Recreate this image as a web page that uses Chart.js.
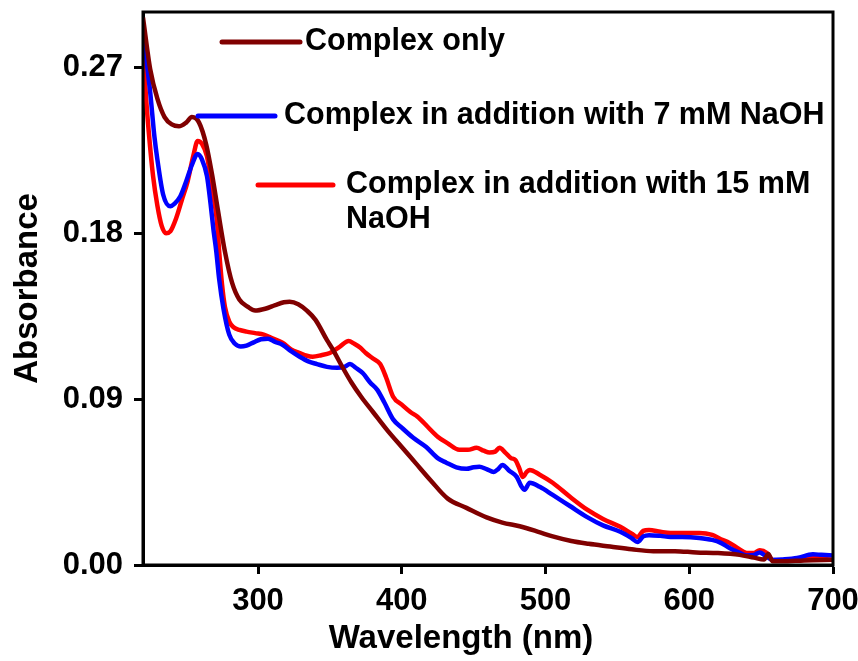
<!DOCTYPE html>
<html>
<head>
<meta charset="utf-8">
<script src="https://cdn.jsdelivr.net/npm/chart.js@4/dist/chart.umd.min.js"></script>
<style>
  html, body { margin: 0; padding: 0; background: #fff; }
  canvas { display: block; }
</style>
</head>
<body>
<canvas id="uvChart" width="858" height="661"></canvas>
<script>
// UV-vis spectra
const complexOnlyNm = [220, 225, 230, 235, 240, 245, 250, 254, 259, 264, 268, 272, 277, 282, 287, 293, 298, 305, 312, 318, 322, 328, 334, 340, 348, 352, 359, 365, 372, 380, 390, 400, 410, 420, 432, 445, 459, 470, 482, 495, 505, 518, 530, 545, 560, 575, 590, 605, 620, 635, 645, 652, 655, 658, 665, 680, 700];
const complexOnlyAbs = [0.297, 0.269, 0.253, 0.243, 0.239, 0.238, 0.240, 0.243, 0.240, 0.228, 0.212, 0.193, 0.170, 0.153, 0.144, 0.140, 0.138, 0.139, 0.141, 0.1425, 0.1428, 0.1415, 0.138, 0.133, 0.122, 0.117, 0.107, 0.099, 0.091, 0.083, 0.073, 0.064, 0.055, 0.046, 0.036, 0.031, 0.0258, 0.023, 0.021, 0.018, 0.0155, 0.013, 0.0115, 0.010, 0.0085, 0.0075, 0.0075, 0.0068, 0.0065, 0.0055, 0.004, 0.003, 0.006, 0.002, 0.002, 0.0025, 0.0028];

const naoh7Nm = [220, 223, 225, 228, 230, 234, 239, 242, 246, 250, 254, 258, 261, 264.5, 267, 269, 271, 273, 276, 280, 284, 288, 292, 297, 302, 307, 312, 317, 323, 329, 335, 341, 348, 355, 360, 364, 368, 373, 378, 383, 388, 394, 400, 408, 417, 425, 431, 438, 445, 450, 454, 459, 464, 467, 470, 475, 480, 483, 485.5, 489, 496, 505, 517, 529, 540, 552, 560, 564, 568, 572, 580, 587, 595, 607, 616, 622, 628, 634, 640, 645, 649, 653, 658, 665, 675, 686, 692, 700];
const naoh7Abs = [0.290, 0.270, 0.2565, 0.232, 0.220, 0.201, 0.1946, 0.196, 0.200, 0.208, 0.217, 0.223, 0.220, 0.211, 0.196, 0.182, 0.170, 0.155, 0.139, 0.125, 0.120, 0.1185, 0.119, 0.1208, 0.1225, 0.1228, 0.121, 0.1195, 0.116, 0.113, 0.1105, 0.109, 0.1075, 0.107, 0.1075, 0.109, 0.107, 0.104, 0.099, 0.095, 0.088, 0.079, 0.0745, 0.069, 0.064, 0.058, 0.0555, 0.053, 0.0522, 0.053, 0.0533, 0.052, 0.0505, 0.052, 0.0543, 0.051, 0.0478, 0.043, 0.0408, 0.0446, 0.0424, 0.038, 0.032, 0.026, 0.0215, 0.018, 0.0145, 0.0125, 0.0155, 0.0162, 0.0158, 0.0152, 0.0152, 0.0147, 0.0136, 0.012, 0.0092, 0.007, 0.0052, 0.0055, 0.0068, 0.005, 0.0027, 0.003, 0.0038, 0.0058, 0.0055, 0.0052];

const naoh15Nm = [220, 222, 224, 227, 230, 233, 236, 239, 243, 247, 251, 255, 258, 261, 264.5, 268, 271.5, 273, 275, 277, 280, 283, 287, 292, 298, 304, 310, 317, 323, 329, 334, 338, 344, 350, 357, 363, 367, 371, 375, 380, 385, 389, 394, 400, 406, 411, 418, 425, 432, 440, 446, 452, 457, 461, 465, 468, 472, 476, 479, 482, 484, 487, 489, 496, 505, 517, 529, 540, 552, 560, 564, 568, 572, 580, 587, 595, 607, 616, 622, 628, 634, 640, 645, 649, 654, 658, 665, 675, 686, 692, 700];
const naoh15Abs = [0.283, 0.255, 0.235, 0.211, 0.195, 0.184, 0.180, 0.181, 0.188, 0.198, 0.208, 0.222, 0.230, 0.2285, 0.2217, 0.205, 0.186, 0.170, 0.152, 0.140, 0.132, 0.129, 0.1275, 0.1266, 0.1258, 0.125, 0.123, 0.1206, 0.117, 0.115, 0.1135, 0.113, 0.1138, 0.115, 0.1185, 0.1215, 0.120, 0.118, 0.115, 0.112, 0.109, 0.102, 0.0913, 0.087, 0.083, 0.0804, 0.075, 0.0696, 0.066, 0.0625, 0.0625, 0.0636, 0.062, 0.061, 0.0615, 0.0636, 0.061, 0.058, 0.057, 0.052, 0.0478, 0.0505, 0.0516, 0.049, 0.0446, 0.037, 0.030, 0.025, 0.0207, 0.017, 0.0152, 0.0185, 0.019, 0.018, 0.0174, 0.0174, 0.0174, 0.0163, 0.014, 0.012, 0.009, 0.0065, 0.0065, 0.008, 0.0065, 0.0027, 0.0025, 0.0027, 0.0043, 0.0035, 0.0027];

const seriesNames = ['Complex only', 'Complex in addition with 7 mM NaOH', 'Complex in addition with 15 mM NaOH'];
const seriesColors = ['#800000', '#0000ff', '#ff0000'];

const xTicks = [300, 400, 500, 600, 700];
const yTicks = [0, 0.09, 0.18, 0.27];

const FONT = "'Liberation Sans', Arial, sans-serif";

function toPoints(xs, ys) {
    return xs.map((x, i) => ({ x: x, y: ys[i] }));
}

// frame on top/right, x title and the legend, placed like the original figure
const framePlugin = {
    id: 'frameAndLegend',
    afterDraw(chart) {
        const ctx = chart.ctx;
        const a = chart.chartArea;
        ctx.save();
        ctx.strokeStyle = '#000';
        ctx.lineWidth = 3;
        ctx.strokeRect(a.left, a.top, a.right - a.left, a.bottom - a.top);

        ctx.fillStyle = '#000';
        ctx.font = 'bold 33px ' + FONT;
        ctx.textAlign = 'center';
        ctx.textBaseline = 'middle';
        ctx.fillText('Wavelength (nm)', 461, 639);

        const items = [
            { x1: 222, x2: 300, y: 42, tx: 305, lines: ['Complex only'] },
            { x1: 198, x2: 275, y: 116, tx: 284, lines: ['Complex in addition with 7 mM NaOH'] },
            { x1: 258, x2: 333, y: 185, tx: 346, lines: ['Complex in addition with 15 mM', 'NaOH'] }
        ];
        ctx.font = 'bold 30.5px ' + FONT;
        ctx.textAlign = 'left';
        ctx.lineCap = 'round';
        items.forEach((it, i) => {
            ctx.strokeStyle = seriesColors[i];
            ctx.lineWidth = 5;
            ctx.beginPath();
            ctx.moveTo(it.x1, it.y);
            ctx.lineTo(it.x2, it.y);
            ctx.stroke();
            ctx.fillStyle = '#000';
            it.lines.forEach((t, j) => ctx.fillText(t, it.tx, it.y + j * 35));
        });
        ctx.restore();
    }
};

const ctx = document.getElementById('uvChart');

new Chart(ctx, {
    type: 'line',
    data: {
        datasets: [
            { label: seriesNames[0], data: toPoints(complexOnlyNm, complexOnlyAbs) },
            { label: seriesNames[1], data: toPoints(naoh7Nm, naoh7Abs) },
            { label: seriesNames[2], data: toPoints(naoh15Nm, naoh15Abs) }
        ].map((d, i) => Object.assign(d, {
            borderColor: seriesColors[i],
            backgroundColor: seriesColors[i],
            borderWidth: 4.5,
            pointRadius: 0,
            fill: false,
            cubicInterpolationMode: 'monotone'
        }))
    },
    options: {
        responsive: false,
        animation: false,
        devicePixelRatio: 1,
        layout: { padding: { left: 0, right: 25, top: 12, bottom: 0 } },
        plugins: {
            legend: { display: false },
            tooltip: { enabled: false }
        },
        scales: {
            x: {
                type: 'linear',
                min: 220,
                max: 700,
                border: { display: true, color: '#000', width: 3 },
                grid: { drawOnChartArea: false, drawTicks: true, tickLength: 9, tickWidth: 3, tickColor: '#000' },
                afterBuildTicks: s => { s.ticks = xTicks.map(v => ({ value: v })); },
                afterFit: s => { s.height = 96; s.paddingLeft = 0; s.paddingRight = 0; },
                ticks: {
                    color: '#000',
                    font: { family: FONT, size: 31, weight: 'bold' },
                    padding: 9,
                    maxRotation: 0,
                    autoSkip: false
                },
                title: { display: false }
            },
            y: {
                type: 'linear',
                min: 0,
                max: 0.30,
                border: { display: true, color: '#000', width: 3 },
                grid: { drawOnChartArea: false, drawTicks: true, tickLength: 9, tickWidth: 3, tickColor: '#000' },
                afterBuildTicks: s => { s.ticks = yTicks.map(v => ({ value: v })); },
                afterFit: s => { s.width = 143; s.paddingTop = 0; s.paddingBottom = 0; },
                ticks: {
                    color: '#000',
                    font: { family: FONT, size: 31, weight: 'bold' },
                    padding: 11,
                    callback: v => v.toFixed(2)
                },
                title: {
                    display: true,
                    text: 'Absorbance',
                    color: '#000',
                    font: { family: FONT, size: 33, weight: 'bold' },
                    padding: { top: 8, bottom: 0 }
                }
            }
        }
    },
    plugins: [framePlugin]
});
</script>
</body>
</html>
